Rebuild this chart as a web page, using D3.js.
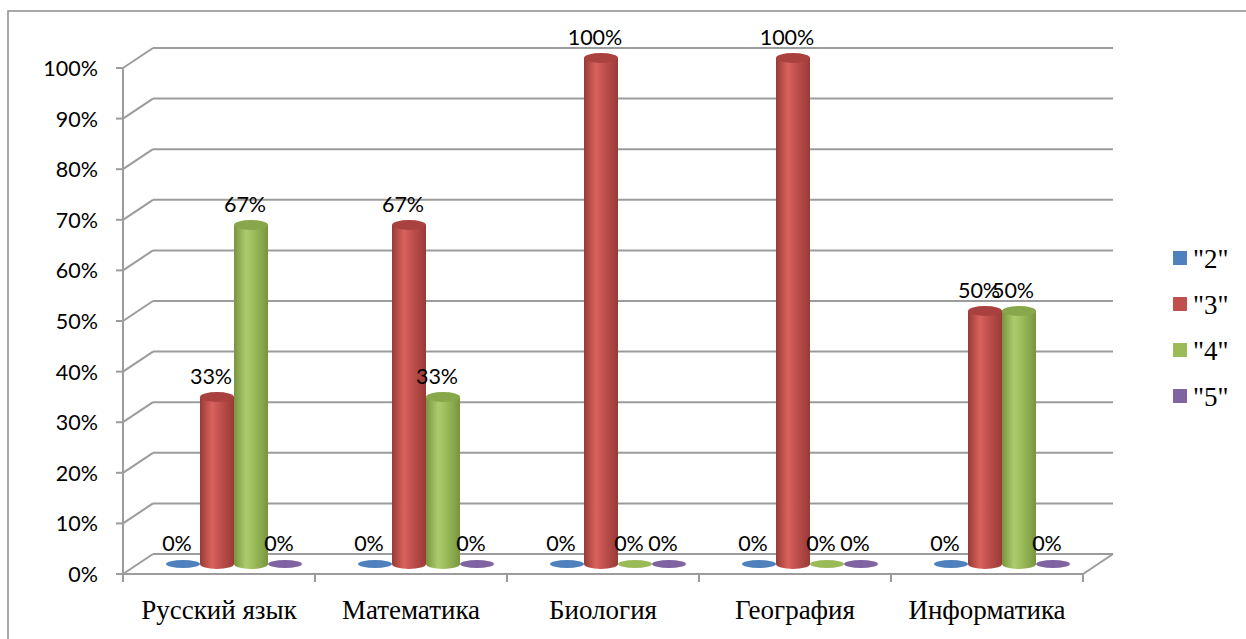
<!DOCTYPE html>
<html>
<head>
<meta charset="utf-8">
<script src="https://cdn.jsdelivr.net/npm/d3@7"></script>
<style>
  body { margin: 0; background: #fff; }
  svg { display: block; }
</style>
</head>
<body>
<div class="chart"></div>
<script>
// данные диаграммы
const categories = ["Русский язык", "Математика", "Биология", "География", "Информатика"];
const series = ['"2"', '"3"', '"4"', '"5"'];
const values2 = [0, 0, 0, 0, 0];
const values3 = [0.33, 0.67, 1, 1, 0.5];
const values4 = [0.67, 0.33, 0, 0, 0.5];
const values5 = [0, 0, 0, 0, 0];
const yTicks = [0, 0.1, 0.2, 0.3, 0.4, 0.5, 0.6, 0.7, 0.8, 0.9, 1];

const seriesValues = [values2, values3, values4, values5];
const colors = [
  { base: "#4F81BD", dark: "#36608f", light: "#6b97cf", top: "#42709f" },
  { base: "#C0504D", dark: "#983a37", light: "#d9625e", top: "#a9423f" },
  { base: "#9BBB59", dark: "#78953f", light: "#adcb6c", top: "#88a74a" },
  { base: "#8064A2", dark: "#5f4a80", light: "#937ab5", top: "#6e5690" }
];

const width = 1246, height = 639;
const left = 123, right = 1083;
const depthX = 30, depthY = -20; // глубина 3D-сцены
const serif = "27px 'Liberation Serif', 'Times New Roman', serif";
const sans = "21.5px Lato, sans-serif";

const svg = d3.select(".chart").append("svg")
  .attr("width", width).attr("height", height);

// градиенты для цилиндров
const defs = svg.append("defs");
colors.forEach((c, i) => {
  const g = defs.append("linearGradient").attr("id", "cyl" + i)
    .attr("x1", "0%").attr("x2", "100%").attr("y1", "0%").attr("y2", "0%");
  g.append("stop").attr("offset", "0%").attr("stop-color", c.dark);
  g.append("stop").attr("offset", "35%").attr("stop-color", c.light);
  g.append("stop").attr("offset", "60%").attr("stop-color", c.base);
  g.append("stop").attr("offset", "100%").attr("stop-color", c.dark);
});

const x = d3.scaleBand().domain(categories).range([left, right]);
const xs = d3.scaleBand().domain(series).range([28, x.bandwidth() - 28]);
const y = d3.scaleLinear().domain([0, 1]).range([574, 68]);

// рамка
svg.append("path")
  .attr("d", `M${width + 5},11 H8 V${height + 5}`)
  .attr("fill", "none").attr("stroke", "#8c8c8c").attr("stroke-width", 1.5);

const grid = "#9c9c9c";

// сетка на задней и боковой стенке
yTicks.forEach(t => {
  svg.append("line")
    .attr("x1", left).attr("y1", y(t))
    .attr("x2", left + depthX).attr("y2", y(t) + depthY)
    .attr("stroke", grid).attr("stroke-width", 2);
  svg.append("line")
    .attr("x1", left + depthX).attr("y1", y(t) + depthY)
    .attr("x2", right + depthX).attr("y2", y(t) + depthY)
    .attr("stroke", grid).attr("stroke-width", 2);
});

// пол
svg.append("path")
  .attr("d", `M${left},${y(0)} H${right} L${right + depthX},${y(0) + depthY}`)
  .attr("fill", "none").attr("stroke", grid).attr("stroke-width", 2);

// ось Y
svg.append("line")
  .attr("x1", left).attr("x2", left).attr("y1", y(1)).attr("y2", y(0) + 8)
  .attr("stroke", grid).attr("stroke-width", 2);
svg.selectAll(".ytick").data(yTicks).enter().append("line")
  .attr("x1", left - 7).attr("x2", left)
  .attr("y1", d => y(d)).attr("y2", d => y(d))
  .attr("stroke", grid).attr("stroke-width", 2);
svg.selectAll(".ylab").data(yTicks).enter().append("text")
  .attr("x", 98).attr("y", d => y(d) + 8)
  .attr("text-anchor", "end")
  .style("font", sans)
  .text(d3.format(".0%"));

// ось X
const xEdges = categories.map(c => x(c)).concat([right]);
svg.selectAll(".xtick").data(xEdges).enter().append("line")
  .attr("x1", d => d).attr("x2", d => d)
  .attr("y1", y(0)).attr("y2", y(0) + 8)
  .attr("stroke", grid).attr("stroke-width", 2);
svg.selectAll(".xlab").data(categories).enter().append("text")
  .attr("x", d => x(d) + x.bandwidth() / 2)
  .attr("y", 619)
  .attr("text-anchor", "middle")
  .style("font", serif)
  .text(d => d);

// цилиндры
const bars = [];
categories.forEach((c, ci) => {
  series.forEach((s, si) => {
    bars.push({ c, s, si, v: seriesValues[si][ci] });
  });
});

const bw = xs.bandwidth();
const rx = bw / 2, ry = 5;
const cx = d => x(d.c) + xs(d.s) + bw / 2 + depthX / 2;
const base = y(0) + depthY / 2;
const topY = d => y(d.v) + depthY / 2;

const g = svg.append("g");
bars.forEach(d => {
  const xc = cx(d), yt = topY(d);
  if (d.v === 0) {
    g.append("ellipse")
      .attr("cx", xc).attr("cy", base).attr("rx", rx).attr("ry", 4)
      .attr("fill", colors[d.si].base);
    return;
  }
  g.append("path")
    .attr("d", `M${xc - rx},${yt} L${xc - rx},${base} A${rx},${ry} 0 0 0 ${xc + rx},${base} L${xc + rx},${yt} Z`)
    .attr("fill", `url(#cyl${d.si})`);
  g.append("ellipse")
    .attr("cx", xc).attr("cy", yt).attr("rx", rx).attr("ry", ry)
    .attr("fill", colors[d.si].top);
});

// подписи значений
svg.selectAll(".vlab").data(bars).enter().append("text")
  .attr("x", d => cx(d) - 6)
  .attr("y", d => topY(d) - 13)
  .attr("text-anchor", "middle")
  .style("font", sans)
  .text(d => d3.format(".0%")(d.v));

// легенда
const legend = svg.selectAll(".leg").data(series).enter().append("g")
  .attr("transform", (d, i) => `translate(1173, ${251 + i * 46})`);
legend.append("rect")
  .attr("width", 14).attr("height", 14)
  .attr("fill", (d, i) => colors[i].base);
legend.append("text")
  .attr("x", 20).attr("y", 17)
  .style("font", serif)
  .text(d => d);
</script>
</body>
</html>
